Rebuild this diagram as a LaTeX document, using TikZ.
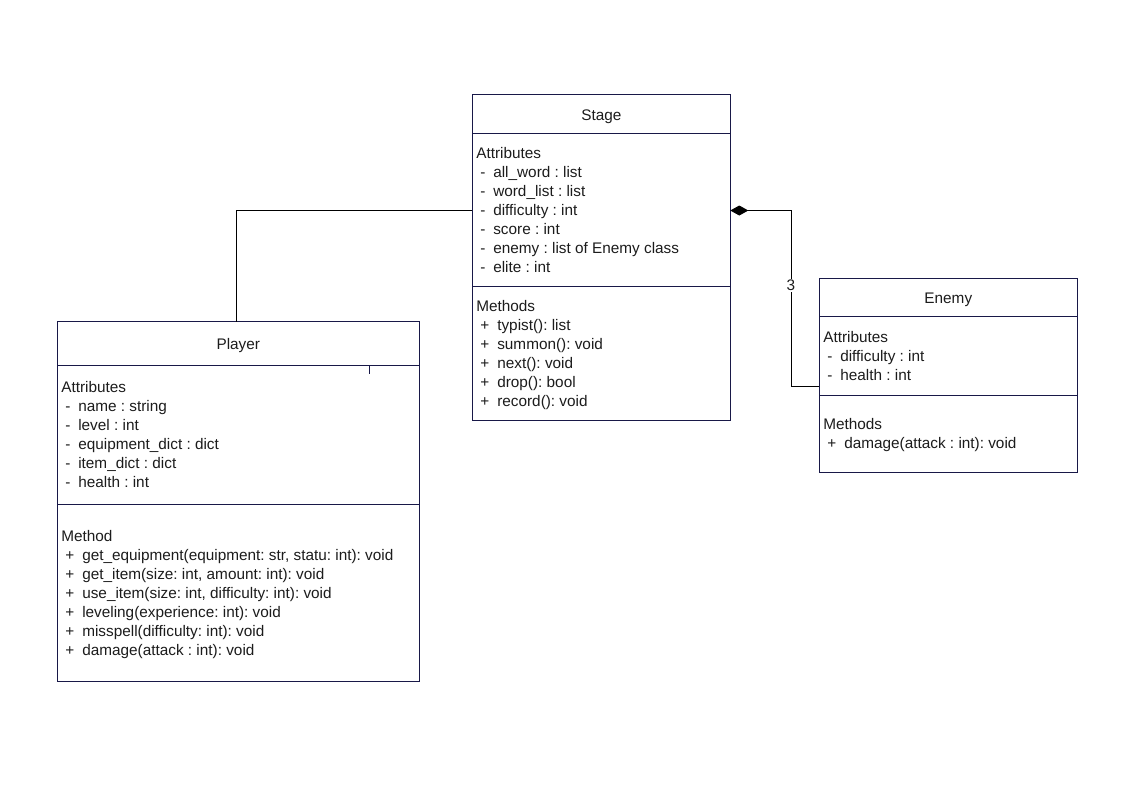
\documentclass[tikz,border=0pt]{standalone}
\usepackage{fontspec}
\setmainfont{Liberation Sans}
\usetikzlibrary{arrows.meta}
\definecolor{boxc}{RGB}{24,24,72}
\definecolor{txtc}{RGB}{28,28,28}
\newcommand\attrline[1]{\makebox[9.75pt][l]{-}#1}
\newcommand\methline[1]{\makebox[12.75pt][l]{+}#1}
\frenchspacing
\begin{document}
\begin{tikzpicture}[x=0.75pt,y=-0.75pt,
  classbox/.style={draw=boxc, line width=0.75pt, inner sep=0pt, outer sep=0pt, anchor=north west},
  divider/.style={draw=boxc, line width=0.75pt},
  txt/.style={anchor=base west, inner sep=0pt, outer sep=0pt, text=txtc, font=\fontsize{11.5}{14}\selectfont\frenchspacing},
  title/.style={anchor=base, inner sep=0pt, outer sep=0pt, text=txtc, font=\fontsize{11.5}{14}\selectfont},
  conn/.style={draw=black, line width=0.75pt},
]
\useasboundingbox[fill=white] (0,0) rectangle (1123,794);

% ---------------- Stage ----------------
\node[classbox, minimum width=258*0.75pt, minimum height=325.7*0.75pt] (stage) at (472.3,94.3) {};
\draw[divider] (472.3,133.3) -- (730.3,133.3);
\draw[divider] (472.3,286) -- (730.3,286);
\node[title] (stage-title) at (601.3,120) {Stage};
\node[txt] (stage-attr) at (476.3,158.3) {Attributes};
\foreach [count=\i from 0] \t in {all\_word : list, word\_list : list, difficulty : int, score : int, enemy : list of Enemy class, elite : int}
  \node[txt] (stage-a\i) at (480.3,{177.3+19*\i}) {\attrline{\t}};
\node[txt] (stage-meth) at (476.3,311) {Methods};
\foreach [count=\i from 0] \t in {typist(): list, summon(): void, next(): void, drop(): bool, record(): void}
  \node[txt] (stage-m\i) at (480.3,{330+19*\i}) {\methline{\t}};

% ---------------- Player ----------------
\node[classbox, minimum width=362*0.75pt, minimum height=359.3*0.75pt] (player) at (57.3,321.7) {};
\draw[divider, line width=1pt] (57.3,365.5) -- (419.3,365.5);
\draw[divider] (369.5,365.5) -- (369.5,373.5);
\draw[divider] (57.3,504.3) -- (419.3,504.3);
\node[title] (player-title) at (238.3,349) {Player};
\node[txt] (player-attr) at (61.3,392.7) {Attributes};
\foreach [count=\i from 0] \t in {name : string, level : int, equipment\_dict : dict, item\_dict : dict, health : int}
  \node[txt] (player-a\i) at (65.3,{411.7+19*\i}) {\attrline{\t}};
\node[txt] (player-meth) at (61.3,541.7) {Method};
\foreach [count=\i from 0] \t in {{get\_equipment(equipment: str, statu: int): void}, {get\_item(size: int, amount: int): void}, {use\_item(size: int, difficulty: int): void}, {leveling(experience: int): void}, {misspell(difficulty: int): void}, {damage(attack : int): void}}
  \node[txt] (player-m\i) at (65.3,{560.7+19*\i}) {\methline{\t}};

% ---------------- Enemy ----------------
\node[classbox, minimum width=258*0.75pt, minimum height=194*0.75pt] (enemy) at (819.3,278.3) {};
\draw[divider] (819.3,316.7) -- (1077.3,316.7);
\draw[divider] (819.3,395.3) -- (1077.3,395.3);
\node[title] (enemy-title) at (948.3,303.3) {Enemy};
\node[txt] (enemy-attr) at (823.3,342.7) {Attributes};
\node[txt] (enemy-a0) at (827.3,361.7) {\attrline{difficulty : int}};
\node[txt] (enemy-a1) at (827.3,380.7) {\attrline{health : int}};
\node[txt] (enemy-meth) at (823.3,429.3) {Methods};
\node[txt] (enemy-m0) at (827.3,448.3) {\methline{damage(attack : int): void}};

% ---------------- Connectors ----------------
\coordinate (stage-w) at (472.3,210.5);
\coordinate (player-n) at (236.7,321.7);
\draw[conn] (player-n) |- (stage-w);

\coordinate (stage-e) at (730.3,210.5);
\coordinate (enemy-w) at (819.3,386);
\coordinate (bend) at (791,210.5);
\draw[conn, {Diamond[length=13.5pt,width=7.5pt]}-] (stage-e) -- (bend) |- (enemy-w);
\node[title, fill=white, inner ysep=1pt] (mult) at (791,290.7) {3};
\end{tikzpicture}
\end{document}
